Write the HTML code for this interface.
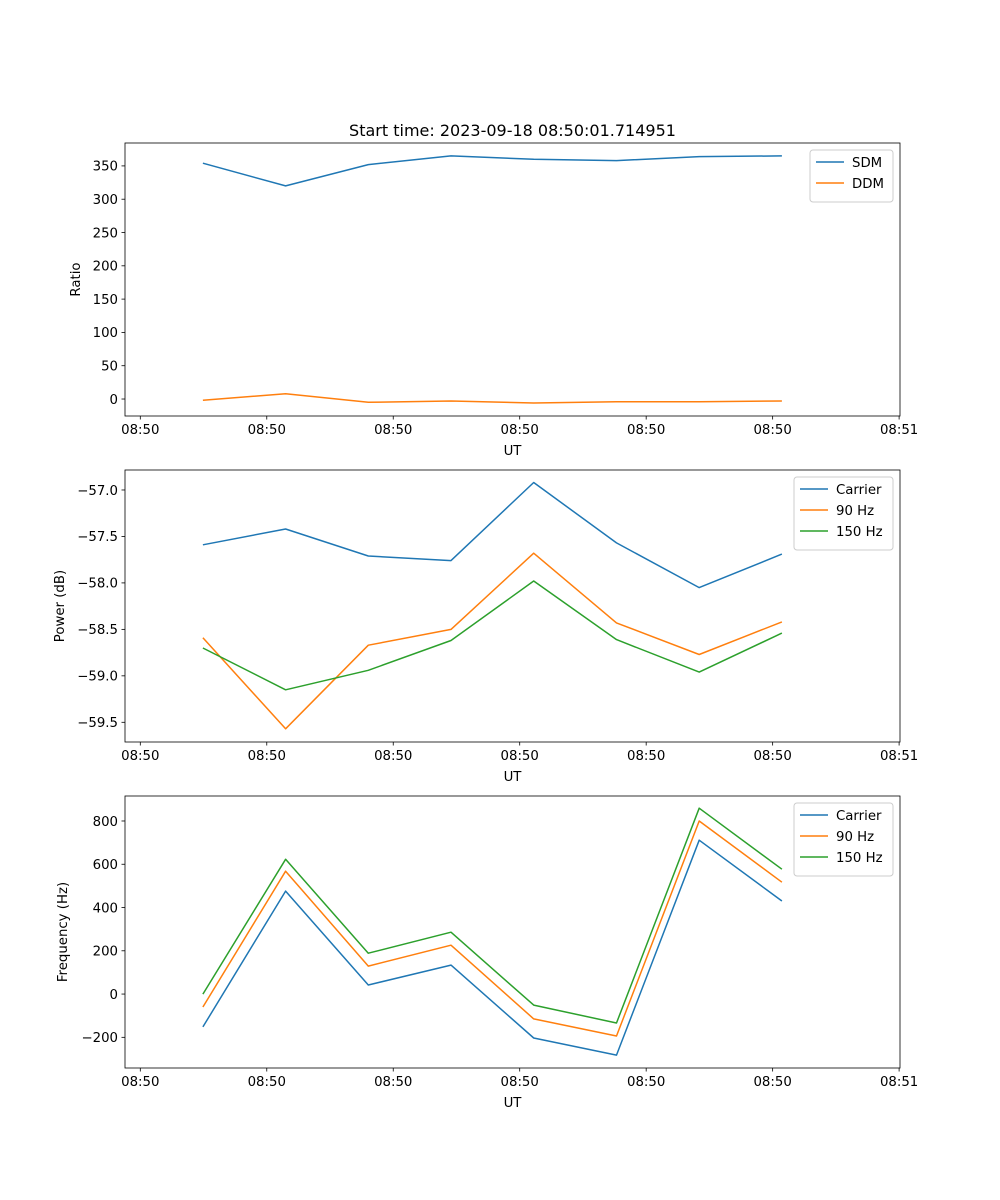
<!DOCTYPE html>
<html><head><meta charset="utf-8"><style>
body{margin:0;background:#fff}
svg{display:block;font-family:"DejaVu Sans","Liberation Sans",sans-serif}
</style></head><body>
<svg id="fig" width="1000" height="1200" viewBox="0 0 1000 1200" xmlns="http://www.w3.org/2000/svg">
<rect width="1000" height="1200" fill="#fff"/>
<text x="512.5" y="136" font-size="16" text-anchor="middle">Start time: 2023-09-18 08:50:01.714951</text>
</svg>
<script>
const times = [4.95, 11.49, 18.03, 24.57, 31.11, 37.65, 44.19, 50.73];
const xTickValues = [0, 10, 20, 30, 40, 50, 60];
const xTickLabels = ["08:50","08:50","08:50","08:50","08:50","08:50","08:51"];
const sdm = [354, 320, 352, 365, 360, 358, 364, 365];
const ddm = [-2, 8, -5, -3, -6, -4, -4, -3];
const ratioTicks = [0, 50, 100, 150, 200, 250, 300, 350];
const powerCarrier = [-57.59, -57.42, -57.71, -57.76, -56.92, -57.57, -58.05, -57.69];
const power90 = [-58.59, -59.57, -58.67, -58.50, -57.68, -58.43, -58.77, -58.42];
const power150 = [-58.70, -59.15, -58.94, -58.62, -57.98, -58.61, -58.96, -58.54];
const powerTicks = [-59.5, -59.0, -58.5, -58.0, -57.5, -57.0];
const freqCarrier = [-152, 476, 42, 134, -203, -282, 711, 430];
const freq90 = [-60, 568, 129, 226, -115, -194, 800, 517];
const freq150 = [0, 623, 189, 286, -51, -134, 859, 577];
const freqTicks = [-200, 0, 200, 400, 600, 800];

const NS = "http://www.w3.org/2000/svg";
const svg = document.getElementById('fig');
const L = 125, R = 900;
const xMin = -1.21, xMax = 60.07;
const xs = v => L + (v - xMin) / (xMax - xMin) * (R - L);
function mk(tag, attrs, parent) {
  const e = document.createElementNS(NS, tag);
  for (const k in attrs) e.setAttribute(k, attrs[k]);
  (parent || svg).appendChild(e);
  return e;
}
const C = {blue:"#1f77b4", orange:"#ff7f0e", green:"#2ca02c"};

function panel(name, top, bottom, yMin, yMax, ticks, fmt, ylabel, ylabelX, series, legend) {
  const g = mk('g', {});
  
  
  const ys = v => bottom - (v - yMin) / (yMax - yMin) * (bottom - top);
  series.forEach(s => {
    const pts = s.vals.map((v, i) => xs(times[i]).toFixed(1) + ',' + ys(v).toFixed(1)).join(' ');
    const pl = mk('polyline', {points: pts, fill: 'none', stroke: s.color, 'stroke-width': 1.5, 'stroke-linejoin': 'round'}, g);
    
    
  });
  const frame = mk('rect', {x: L, y: top, width: R - L, height: bottom - top, fill: 'none', stroke: '#000', 'stroke-width': 0.8}, g);
  
  
  xTickValues.forEach((t, i) => {
    const x = xs(t);
    mk('line', {x1: x, x2: x, y1: bottom, y2: bottom + 3.5, stroke: '#000', 'stroke-width': 0.8}, g);
    const tx = mk('text', {x: x, y: bottom + 18, 'font-size': 13.3, 'text-anchor': 'middle'}, g);
    tx.textContent = xTickLabels[i];
    
    
  });
  ticks.forEach(t => {
    const y = ys(t);
    mk('line', {x1: L - 3.5, x2: L, y1: y, y2: y, stroke: '#000', 'stroke-width': 0.8}, g);
    const tx = mk('text', {x: L - 7, y: y + 4.8, 'font-size': 13.3, 'text-anchor': 'end'}, g);
    tx.textContent = fmt(t);
    
    
  });
  const xl = mk('text', {x: 512.5, y: bottom + 39, 'font-size': 13.3, 'text-anchor': 'middle'}, g);
  xl.textContent = 'UT';
  
  
  const cy = (top + bottom) / 2;
  const yl = mk('text', {x: ylabelX, y: cy, 'font-size': 13.3, 'text-anchor': 'middle', transform: 'rotate(-90 ' + ylabelX + ' ' + cy + ')'}, g);
  yl.textContent = ylabel;
  
  
  // legend
  const lg = mk('g', {}, g);
  
  
  const h = 10 + series.length * 21;
  mk('rect', {x: legend.x, y: top + 7, width: R - 7 - legend.x, height: h, rx: 3, fill: '#fff', 'fill-opacity': 0.8, stroke: '#ccc', 'stroke-width': 1}, lg);
  series.forEach((s, i) => {
    const y = top + 7 + 12 + i * 21;
    mk('line', {x1: legend.x + 6, x2: legend.x + 34, y1: y, y2: y, stroke: s.color, 'stroke-width': 1.5}, lg);
    const tx = mk('text', {x: legend.x + 42, y: y + 5, 'font-size': 13.3}, lg);
    tx.textContent = s.label;
    
    
  });
}

panel('ratio', 143, 416, -25.5, 384.4, ratioTicks, v => v.toString(), 'Ratio', 80,
  [{key:'sdm', label:'SDM', color:C.blue, vals:sdm}, {key:'ddm', label:'DDM', color:C.orange, vals:ddm}], {x: 810});
panel('power', 470, 742, -59.712, -56.785, powerTicks, v => '\u2212' + Math.abs(v).toFixed(1), 'Power (dB)', 64,
  [{key:'carrier', label:'Carrier', color:C.blue, vals:powerCarrier}, {key:'90hz', label:'90 Hz', color:C.orange, vals:power90}, {key:'150hz', label:'150 Hz', color:C.green, vals:power150}], {x: 794});
panel('frequency', 796, 1068, -341.8, 915.5, freqTicks, v => (v < 0 ? '\u2212' + Math.abs(v) : v.toString()), 'Frequency (Hz)', 67,
  [{key:'carrier', label:'Carrier', color:C.blue, vals:freqCarrier}, {key:'90hz', label:'90 Hz', color:C.orange, vals:freq90}, {key:'150hz', label:'150 Hz', color:C.green, vals:freq150}], {x: 794});
</script>
</body></html>
